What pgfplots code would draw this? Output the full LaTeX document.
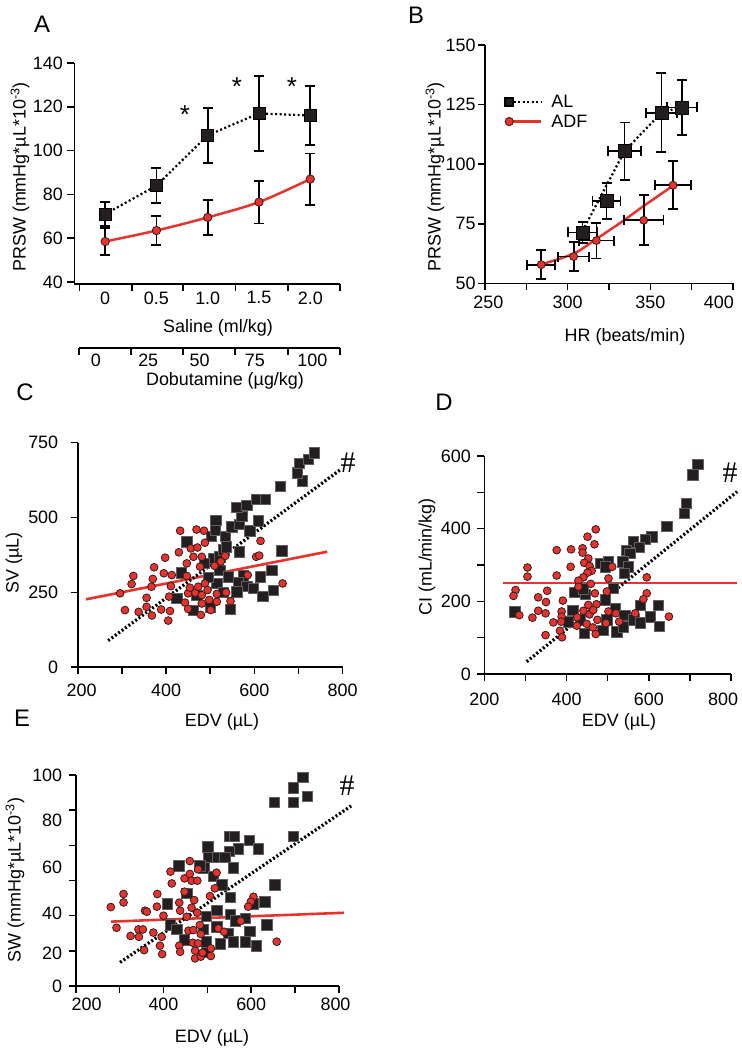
\documentclass[border=0pt]{standalone}
\usepackage{pgfplots}
\pgfplotsset{compat=1.18}
\usepackage{fontspec}
\setmainfont{Liberation Sans}
\newfontfamily\seriffont{Liberation Serif}
\definecolor{myred}{RGB}{232,50,46}
\definecolor{sqfill}{RGB}{35,31,32}
\definecolor{sqedge}{RGB}{95,95,95}
\definecolor{cedge}{RGB}{45,30,30}
\newcommand{\ff}{\fontsize{18}{21}\selectfont}
\newcommand{\pf}{\fontsize{24}{28}\selectfont}
\pgfplotsset{
  base/.style={
    scale only axis, clip=false, anchor=south west,
    axis x line*=bottom, axis y line*=left,
    axis line style={line width=1.6bp},
    tick style={line width=1.6bp, black},
    tick align=outside,
    major tick length=0bp, minor tick length=7bp,
    tick label style={font=\ff},
    /pgf/number format/assume math mode=true,
    /pgf/number format/1000 sep={},
  },
  sq/.style={only marks, mark=square*, mark size=5.2bp, mark options={fill=sqfill, draw=sqedge, line width=0.5bp}},
  ci/.style={only marks, mark=*, mark size=3.9bp, mark options={fill=myred, draw=cedge, line width=0.8bp}},
  redline/.style={no marks, myred, line width=2.6bp},
  dotline/.style={no marks, black, line width=3.2bp, dash pattern=on 2bp off 2.2bp},
}

\pgfplotstableread{
x y
447 419
435 316
424 230
462 191
503 438
511 458
513 492
507 364
515 280
486 347
522 325
522 369
531 392
537 403
534 438
549 469
566 478
571 505
560 534
583 542
604 561
624 561
590 456
609 490
566 386
541 303
575 306
564 283
583 271
560 252
545 193
598 264
614 303
619 238
639 325
643 258
662 389
659 605
708 623
697 650
702 681
722 694
735 717
470 240
495 300
530 250
500 200
}\Csq

\pgfplotstableread{
x y
432 456
469 460
486 456
488 416
456 397
471 400
429 384
462 369
481 369
398 366
447 347
477 336
373 334
395 314
413 308
326 305
370 295
322 278
367 269
411 271
447 305
296 247
356 232
407 236
307 191
338 185
356 202
368 173
389 193
409 188
405 156
443 216
450 195
466 249
473 269
488 280
494 258
481 213
498 225
501 191
479 175
515 245
515 219
450 247
454 266
510 339
481 241
614 422
604 369
611 373
585 308
664 280
534 372
524 353
536 250
546 221
}\Cci

\pgfplotstableread{
x y
274 171
415 176
404 144
443 112
445 220
433 149
482 305
488 121
719 578
707 548
691 470
687 442
644 406
607 378
591 371
562 364
577 349
545 341
554 332
537 309
502 309
494 295
550 295
540 277
514 236
494 204
579 190
623 190
518 181
542 162
603 158
563 149
579 141
626 132
522 116
538 130
498 149
420 225
440 235
}\Dsq

\pgfplotstableread{
x y
471 398
451 378
468 357
376 341
411 343
439 346
439 334
453 318
443 306
456 297
461 284
451 279
410 295
305 293
305 268
376 271
441 266
429 257
459 248
429 240
276 231
271 215
353 229
331 211
350 198
391 202
469 222
453 190
473 192
285 162
317 155
331 174
349 167
388 172
388 158
368 142
387 144
441 174
456 164
465 176
426 156
425 133
449 138
475 149
464 128
471 110
384 119
349 107
389 101
511 295
595 266
595 222
587 206
502 263
498 227
502 172
520 167
528 144
567 167
649 158
496 140
}\Dci

\pgfplotstableread{
x y
501 66
435 57
453 44
409 39
415 29
430 27
492 56
498 21
521 28
447 22
717 99
696 94
728 90
696 87
652 87
696 71
596 69
550 71
561 71
616 65
571 65
550 64
502 61
523 61
540 61
559 56
483 57
514 52
533 48
654 48
552 42
631 40
605 39
521 36
552 34
498 33
563 31
586 32
635 29
548 25
597 26
529 20
559 21
586 21
611 19
498 16
491 27
}\Esq

\pgfplotstableread{
x y
460 59.2
416 54.2
479 55.3
419 48.6
448 51.0
460 53.1
464 49.9
477 49.9
386 43.6
309 43.6
309 39.6
280 37.4
385 37.6
358 35.7
362 35.2
436 39.5
438 35.7
448 44.7
470 40.7
464 37.1
400 33.3
453 32.8
477 34.7
506 42.6
293 27.6
325 23.7
343 26.8
353 26.8
344 23.3
377 25.3
396 23.3
392 19.1
356 17.0
397 15.1
436 19.1
438 16.2
457 26.2
468 26.5
483 28.9
485 24.6
467 20.5
479 20.2
472 16.7
472 13.1
485 13.9
489 15.8
508 17.8
508 14.2
521 53.7
517 46.3
605 42.3
599 39.9
593 37.6
576 30.8
525 27.3
538 25.7
658 21.0
}\Eci

\begin{document}
\begin{tikzpicture}
\path[use as bounding box] (0,0) rectangle (742bp,1050bp);

% ---------------- Panel A ----------------
\begin{axis}[base, at={(74.4bp,766bp)}, width=265.6bp, height=221bp,
  xmin=-0.3, xmax=2.29, ymin=39.1, ymax=140,
  xtick={0,0.5,1,1.5,2}, xticklabels={0,0.5,1.0,1.5,2.0},
  minor xtick={-0.25,0.26,0.76,1.27,1.78,2.29},
  ytick={40,60,...,140}, minor ytick={40,60,...,140},
  yticklabel style={xshift=-8bp}, xticklabel style={yshift=-4bp}]
\addplot[black, line width=2.2bp, dash pattern=on 2bp off 2.5bp] coordinates {(0,71)(0.5,84)(1,107)(1.5,117)(2,116)};
\addplot[myred, line width=2.5bp, smooth] coordinates {(0,58.5)(0.5,63.5)(1,69.5)(1.5,76.5)(2,87)};
\addplot[only marks, mark=*, mark size=4.2bp, mark options={fill=myred, draw=cedge, line width=0.8bp},
  error bars/.cd, y dir=both, y explicit, error bar style={line width=1.8bp, black},
  error mark options={rotate=90, mark size=5bp, line width=1.8bp, black}]
  coordinates {(0,58.5) +- (0,6) (0.5,63.5) +- (0,6.5) (1,69.5) +- (0,8) (1.5,76.5) +- (0,9.8) (2,87) +- (0,11.7)};
\addplot[only marks, mark=square*, mark size=6bp, mark options={fill=sqfill, draw=black, line width=0.5bp},
  error bars/.cd, y dir=both, y explicit, error bar style={line width=1.8bp, black},
  error mark options={rotate=90, mark size=5bp, line width=1.8bp, black}]
  coordinates {(0,71) +- (0,5.5) (0.5,84) +- (0,8) (1,107) +- (0,12.5) (1.5,117) +- (0,17) (2,116) +- (0,13.5)};
\end{axis}
\begin{axis}[base, at={(79bp,702bp)}, width=261bp, height=10bp,
  xmin=-0.255, xmax=2.29, ymin=0, ymax=1, axis y line=none,
  xtick={-0.09,0.42,0.92,1.46,2.02}, xticklabels={0,25,50,75,100},
  minor xtick={-0.255,0.252,0.759,1.266,1.783,2.29},
  xticklabel style={yshift=-2.5bp}]
\end{axis}

% ---------------- Panel B ----------------
\begin{axis}[base, at={(485bp,766.5bp)}, width=248bp, height=238.5bp,
  xmin=250, xmax=400, ymin=50, ymax=150,
  xtick={252,300,350,391.5}, xticklabels={250,300,350,400}, minor xtick={250,275,...,400},
  ytick={50,75,...,150}, minor ytick={50,75,...,150},
  yticklabel style={xshift=-6bp}, xticklabel style={yshift=-8.5bp},
  legend style={at={(axis cs:262,129.6)}, anchor=north west, draw=none, fill=none,
    font=\ff, row sep=4bp, inner sep=0bp, nodes={inner sep=1bp},
    /tikz/every odd column/.append style={column sep=8bp}},
  legend cell align=left,
  legend image code/.code={\draw[mark repeat=2,mark phase=1,#1] plot coordinates {(0bp,0bp) (32bp,0bp)};}]
\addlegendimage{black, line width=2.2bp, dash pattern=on 2bp off 2.5bp, mark=square*, mark size=4bp, mark options={solid, fill=sqfill, draw=black}}
\addlegendentry{AL}
\addlegendimage{myred, line width=2.5bp, mark=*, mark size=4.2bp, mark options={fill=myred, draw=cedge, line width=0.8bp}}
\addlegendentry{ADF}
\addplot[black, line width=2.2bp, dash pattern=on 2bp off 2.5bp, forget plot] coordinates {(309,72)(334.4,105.5)(356.7,121.6)(369,124)};
\addplot[myred, line width=2.5bp, smooth, forget plot] coordinates {(284,58)(303.6,62.5)(317,68.5)(333,76)(346,82.5)(363.7,91)};
\addplot[forget plot, only marks, mark=*, mark size=4bp, mark options={fill=myred, draw=cedge, line width=0.8bp},
  error bars/.cd, x dir=both, x explicit, y dir=both, y explicit, error bar style={line width=1.8bp, black},
  error mark options={rotate=90, mark size=5bp, line width=1.8bp, black}]
  coordinates {(284,57.9) +- (8.5,6) (303.6,61.3) +- (9.5,6) (317.4,68) +- (10.5,7.5) (346,76.5) +- (12,10.5) (363.7,91.2) +- (11,10)};
\addplot[forget plot, only marks, mark=square*, mark size=6.5bp, mark options={fill=sqfill, draw=black, line width=0.5bp},
  error bars/.cd, x dir=both, x explicit, y dir=both, y explicit, error bar style={line width=1.8bp, black},
  error mark options={rotate=90, mark size=5bp, line width=1.8bp, black}]
  coordinates {(309,71.4) +- (9,4.5) (323.5,84.5) +- (8.5,7.5) (334.4,105.5) +- (10,12) (356.7,121.6) +- (9.5,16.5) (369,123.8) +- (9,11.5)};
\end{axis}

% ---------------- Panel C ----------------
\begin{axis}[base, at={(77.7bp,382.7bp)}, width=265bp, height=224.6bp,
  xmin=200, xmax=800, ymin=0, ymax=750,
  xtick={209,400,600,800}, xticklabels={200,400,600,800}, minor xtick={200,300,...,800},
  ytick={0,250,500,750}, minor ytick={0,250,500,750},
  yticklabel style={xshift=-16bp}, xticklabel style={yshift=-13bp}]
\addplot[sq] table {\Csq};
\addplot[ci] table {\Cci};
\addplot[redline] coordinates {(219,227)(765,386)};
\addplot[dotline] coordinates {(269,89)(794,659)};
\end{axis}

% ---------------- Panel D ----------------
\begin{axis}[base, at={(484.3bp,376bp)}, width=246.7bp, height=218bp,
  xmin=200, xmax=800, ymin=0, ymax=600,
  xtick={200,400,600,781}, xticklabels={200,400,600,800}, minor xtick={200,300,...,800},
  ytick={0,200,400,600}, minor ytick={0,100,...,600},
  yticklabel style={xshift=-10bp}, xticklabel style={yshift=-15bp}]
\addplot[sq] table {\Dsq};
\addplot[ci] table {\Dci};
\addplot[redline] coordinates {(246,250)(814,250)};
\addplot[dotline] coordinates {(303,34)(815,502)};
\end{axis}

% ---------------- Panel E ----------------
\begin{axis}[base, at={(75.7bp,64bp)}, width=263.3bp, height=211bp,
  xmin=200, xmax=800, ymin=0, ymax=100,
  xtick={225,400,600,792}, xticklabels={200,400,600,800}, minor xtick={200,300,...,800},
  ytick={0,15.6,34.6,56.4,78.7,100}, yticklabels={0,20,40,60,80,100},
  minor ytick={0,16.667,33.333,50,66.667,83.333,100},
  yticklabel style={xshift=-10bp}, xticklabel style={yshift=-8bp}]
\addplot[sq] table {\Esq};
\addplot[ci] table {\Eci};
\addplot[redline] coordinates {(280.5,30.5)(811,34.7)};
\addplot[dotline] coordinates {(301,11.2)(831,85.8)};
\end{axis}

% ---------------- texts ----------------
\node[font=\pf] at (42bp,1026bp) {A};
\node[font=\pf] at (416bp,1035bp) {B};
\node[font=\pf] at (25bp,658bp) {C};
\node[font=\pf] at (444bp,648bp) {D};
\node[font=\pf] at (22bp,332bp) {E};

\node[font=\ff, rotate=90] at (20bp,873bp) {PRSW (mmHg*µL*10\textsuperscript{-3})};
\node[font=\ff] at (218bp,722bp) {Saline (ml/kg)};
\node[font=\ff] at (225bp,669bp) {Dobutamine (µg/kg)};
\node[font=\ff, rotate=90] at (435bp,873bp) {PRSW (mmHg*µL*10\textsuperscript{-3})};
\node[font=\ff] at (625bp,713bp) {HR (beats/min)};

\node[font=\ff, rotate=90] at (14bp,487bp) {SV (µL)};
\node[font=\ff] at (222bp,328bp) {EDV (µL)};
\node[font=\ff, rotate=90] at (427bp,493bp) {CI (mL/min/kg)};
\node[font=\ff] at (619bp,328bp) {EDV (µL)};
\node[font=\ff, rotate=90] at (15bp,170bp) {SW (mmHg*µL*10\textsuperscript{-3})};
\node[font=\ff] at (212bp,12bp) {EDV (µL)};

\node[font=\fontsize{26}{28}\selectfont] at (185bp,935bp) {*};
\node[font=\fontsize{26}{28}\selectfont] at (237bp,963bp) {*};
\node[font=\fontsize{26}{28}\selectfont] at (292bp,963bp) {*};

\node[font=\seriffont\fontsize{30}{32}\selectfont] at (348bp,587bp) {\#};
\node[font=\seriffont\fontsize{30}{32}\selectfont] at (730bp,577bp) {\#};
\node[font=\seriffont\fontsize{30}{32}\selectfont] at (347bp,264bp) {\#};
\end{tikzpicture}
\end{document}
